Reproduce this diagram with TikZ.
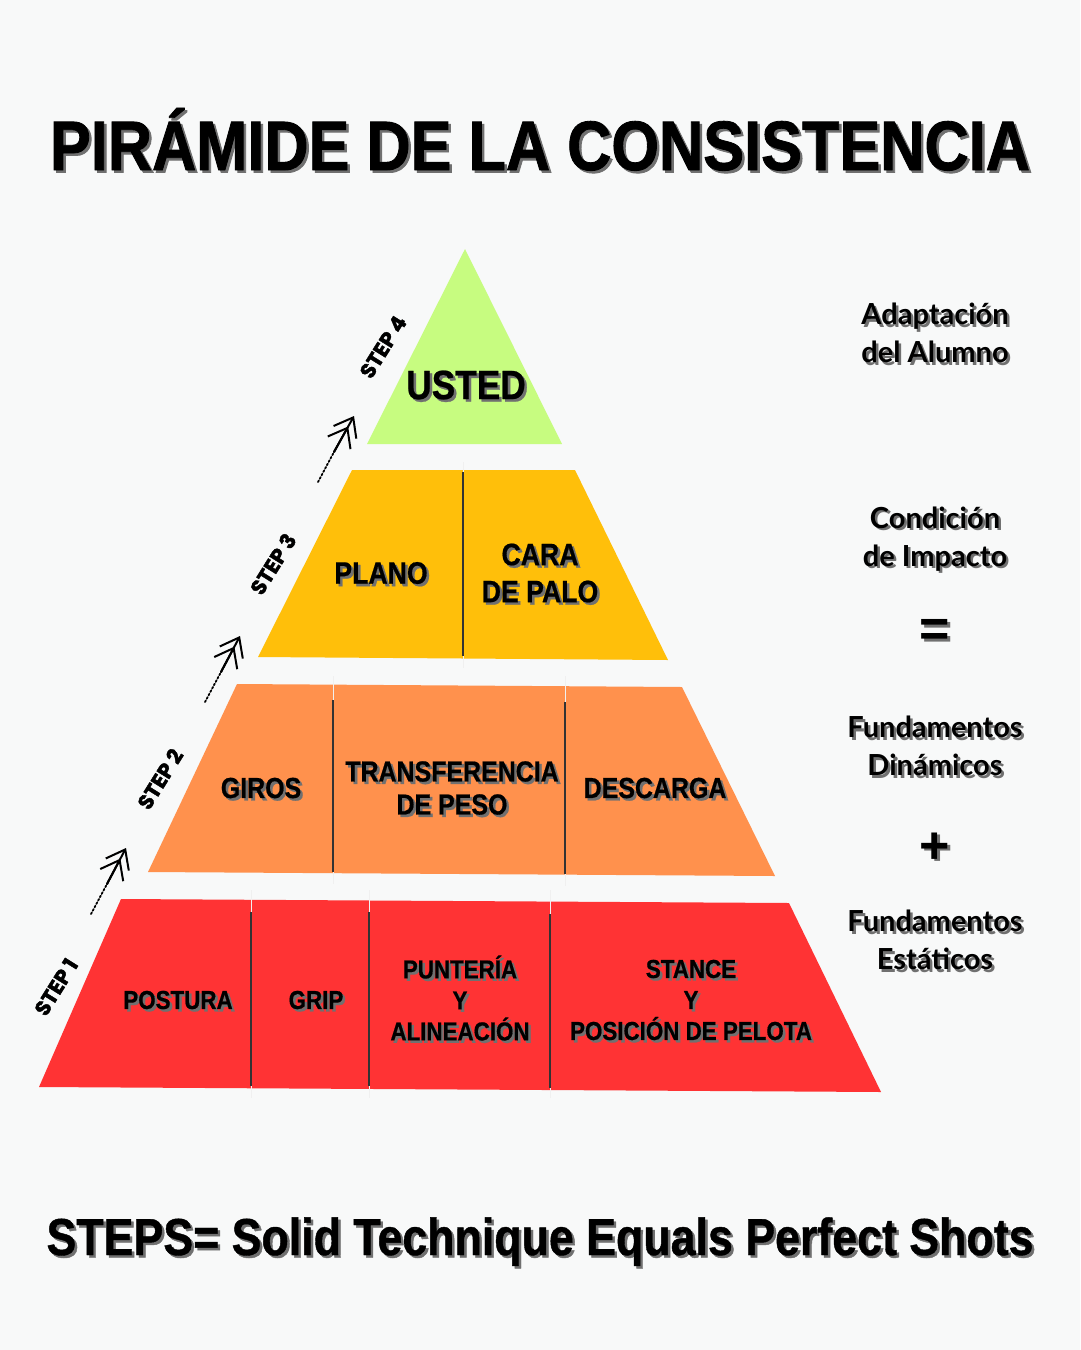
\documentclass[tikz,border=0pt]{standalone}
\usepackage{fontspec}
\setmainfont{Liberation Sans}
\newfontfamily\condf{Liberation Sans}[FakeStretch=0.875, FakeBold=1.2]
\newfontfamily\condl{Liberation Sans}[FakeStretch=0.86, FakeBold=0.8]
\newfontfamily\labf{Liberation Sans}[FakeStretch=0.86, FakeBold=0.6]
\newfontfamily\stepf{Poppins}[FakeBold=2]
\newfontfamily\sidef{Lato}[UprightFont={* Bold}, BoldFont={* Bold}]
\usetikzlibrary{arrows.meta,calc}
\definecolor{bg}{HTML}{F8F9F9}
\definecolor{tred}{HTML}{FF3334}
\definecolor{torange}{HTML}{FF914D}
\definecolor{tamber}{HTML}{FFBF0A}
\definecolor{tgreen}{HTML}{C7FC80}
\definecolor{shadowgray}{HTML}{707070}
\tikzset{
  divider/.style={line width=1.1pt, black!80},
  divfaint/.style={line width=0.6pt, black!6},
  title/.style={font=\condf\bfseries\fontsize{70}{70}\selectfont, inner sep=0pt, anchor=base},
  bottom/.style={font=\condl\bfseries\fontsize{52}{52}\selectfont, inner sep=0pt, anchor=base},
  lab1/.style={font=\labf\bfseries\fontsize{26}{31}\selectfont, align=center, inner sep=0pt},
  lab2/.style={font=\labf\bfseries\fontsize{29}{33}\selectfont, align=center, inner sep=0pt},
  lab3/.style={font=\labf\bfseries\fontsize{31}{37}\selectfont, align=center, inner sep=0pt},
  usted/.style={font=\labf\bfseries\fontsize{41}{41}\selectfont, inner sep=0pt},
  side/.style={font=\sidef\fontsize{29}{38}\selectfont, align=center, inner sep=0pt},
  sym/.style={font=\bfseries\fontsize{52}{52}\selectfont, inner sep=0pt},
  steplab/.style={font=\stepf\bfseries\fontsize{21}{21}\selectfont, rotate=58, inner sep=0pt},
  dots/.style={dotted, line width=1.8pt, line cap=round},
  head/.style={line width=2pt, line cap=round, -{Straight Barb[length=17pt,width=26pt]}},
}
\newcommand{\stx}[4]{%
  \node[#1, text=shadowgray] at ([shift={(2.5,2.5)}]#2) {#4};
  \node[#1] (#3) at (#2) {#4};}
\newcommand{\steparrow}[4]{% #1 name prefix, #2 start, #3 mid, #4 end
  \coordinate (#1s) at (#2);
  \coordinate (#1m) at (#3);
  \coordinate (#1e) at (#4);
  \coordinate (#1k) at ($(#1e)!12pt!(#1m)$);
  \draw[dots] (#1s) -- (#1m);
  \draw[head] (#1m) -- (#1e);
  \draw[head] (#1m) -- (#1k);}
\begin{document}
\begin{tikzpicture}[x=1pt,y=-1pt]
\useasboundingbox[fill=bg] (0,0) rectangle (1080,1350);

% title
\stx{title}{540,170}{title}{PIRÁMIDE DE LA CONSISTENCIA}

% tier 4
\fill[tgreen] (465,249) -- (562,444) -- (367,444) -- cycle;
\stx{usted}{466,385}{usted}{USTED}

% tier 3
\fill[tamber] (352,470) -- (575,470) -- (668,660) -- (258,657) -- cycle;
\draw[divfaint] (463,462) -- (463,668);
\draw[divider] (463,472) -- (463,656);
\stx{lab3}{381,573}{plano}{PLANO}
\stx{lab3}{540,573}{cara}{CARA\\DE PALO}

% tier 2
\fill[torange] (237,684) -- (682,687) -- (775,876) -- (148,872) -- cycle;
\draw[divfaint] (333,676) -- (333,884);
\draw[divfaint] (565,676) -- (565,886);
\draw[divider] (333,700) -- (333,872);
\draw[divider] (565,702) -- (565,874);
\stx{lab2}{261,788}{giros}{GIROS}
\stx{lab2}{452,788}{transf}{TRANSFERENCIA\\DE PESO}
\stx{lab2}{655,788}{descarga}{DESCARGA}

% tier 1
\fill[tred] (121,899) -- (789,903) -- (881,1092) -- (39,1087) -- cycle;
\draw[divfaint] (251,890) -- (251,1098);
\draw[divfaint] (369,890) -- (369,1098);
\draw[divfaint] (550,890) -- (550,1098);
\draw[divider] (251,912) -- (251,1086);
\draw[divider] (369,912) -- (369,1086);
\draw[divider] (550,914) -- (550,1088);
\stx{lab1}{178,1000}{postura}{POSTURA}
\stx{lab1}{316,1000}{grip}{GRIP}
\stx{lab1}{460,998}{punteria}{PUNTERÍA\\Y\\ALINEACIÓN}
\stx{lab1}{691,1000}{stance}{STANCE\\Y\\POSICIÓN DE PELOTA}

% step labels
\node[steplab] (s1) at (56,987) {STEP 1};
\node[steplab] (s2) at (160,779) {STEP 2};
\node[steplab] (s3) at (273,564) {STEP 3};
\node[steplab] (s4) at (383,347) {STEP 4};

% arrows
\steparrow{a1}{91,914}{107,884}{126,848}
\steparrow{a2}{205,702}{221,672}{240,636}
\steparrow{a3}{318,482}{334,452}{354,416}

% right side
\stx{side}{935,333}{adapt}{Adaptación\\del Alumno}
\stx{side}{935,539}{cond}{Condición\\de Impacto}
\stx{sym}{935,633}{eq}{=}
\stx{side}{935,746}{dyn}{Fundamentos\\Dinámicos}
\stx{sym}{935,848}{plus}{+}
\stx{side}{935,940}{stat}{Fundamentos\\Estáticos}

% bottom
\stx{bottom}{540,1255}{bottomline}{STEPS= Solid Technique Equals Perfect Shots}
\end{tikzpicture}
\end{document}
